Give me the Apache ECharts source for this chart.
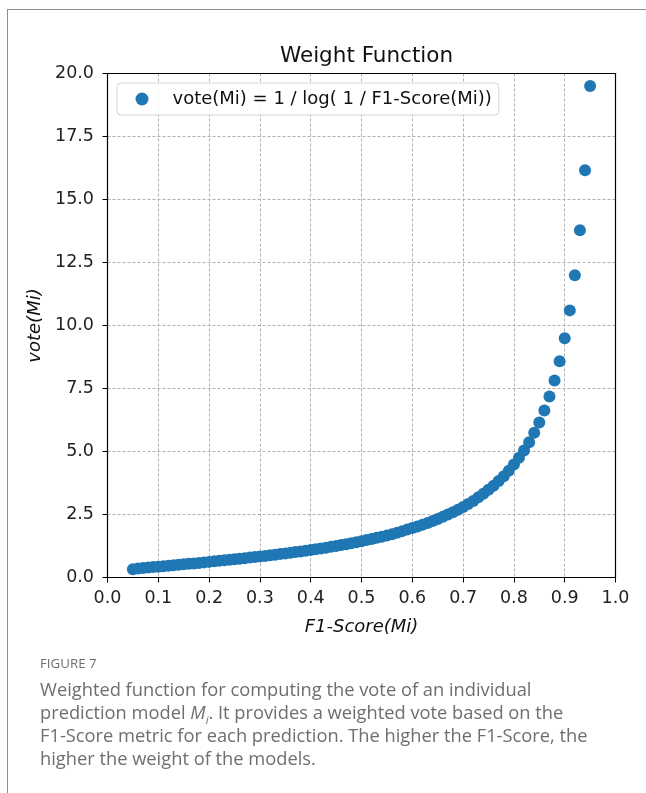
<!DOCTYPE html>
<html><head><meta charset="utf-8">
<script src="https://cdn.jsdelivr.net/npm/echarts@6/dist/echarts.min.js"></script>
<style>
html,body{margin:0;padding:0;background:#fff;}
#wrap{position:relative;width:646px;height:793px;overflow:hidden;}
#frame{position:absolute;left:7px;top:9px;width:700px;height:900px;border-left:1.5px solid #8c8c8c;border-top:1.5px solid #8c8c8c;}
#chart{position:absolute;left:0;top:0;width:646px;height:793px;}
#cap{position:absolute;left:40px;top:654px;width:600px;font-family:"Open Sans","Noto Sans",sans-serif;color:#6e6e6e;white-space:nowrap;}
#cap .fig{font-size:13.3px;line-height:18px;margin-bottom:5px;}
#cap .txt{font-size:18.3px;line-height:23px;}
</style></head>
<body><div id="wrap"><div id="frame"></div><div id="chart"></div>
<div id="cap"><div class="fig">FIGURE 7</div><div class="txt">Weighted function for computing the vote of an individual<br>prediction model <i>M<sub style="font-size:11px;line-height:0">i</sub></i>. It provides a weighted vote based on the<br>F1-Score metric for each prediction. The higher the F1-Score, the<br>higher the weight of the models.</div></div>
</div>
<script>
const f1Scores = [0.05,0.06,0.07,0.08,0.09,0.10,0.11,0.12,0.13,0.14,0.15,0.16,0.17,0.18,0.19,0.20,0.21,0.22,0.23,0.24,0.25,0.26,0.27,0.28,0.29,0.30,0.31,0.32,0.33,0.34,0.35,0.36,0.37,0.38,0.39,0.40,0.41,0.42,0.43,0.44,0.45,0.46,0.47,0.48,0.49,0.50,0.51,0.52,0.53,0.54,0.55,0.56,0.57,0.58,0.59,0.60,0.61,0.62,0.63,0.64,0.65,0.66,0.67,0.68,0.69,0.70,0.71,0.72,0.73,0.74,0.75,0.76,0.77,0.78,0.79,0.80,0.81,0.82,0.83,0.84,0.85,0.86,0.87,0.88,0.89,0.90,0.91,0.92,0.93,0.94,0.95];
const votes = [0.33,0.36,0.38,0.40,0.42,0.43,0.45,0.47,0.49,0.51,0.53,0.55,0.56,0.58,0.60,0.62,0.64,0.66,0.68,0.70,0.72,0.74,0.76,0.79,0.81,0.83,0.85,0.88,0.90,0.93,0.95,0.98,1.01,1.03,1.06,1.09,1.12,1.15,1.18,1.22,1.25,1.29,1.32,1.36,1.40,1.44,1.49,1.53,1.58,1.62,1.67,1.72,1.78,1.84,1.90,1.96,2.02,2.09,2.16,2.24,2.32,2.41,2.50,2.59,2.69,2.80,2.92,3.04,3.18,3.32,3.48,3.64,3.83,4.02,4.24,4.48,4.75,5.04,5.37,5.74,6.15,6.63,7.18,7.82,8.58,9.49,10.60,11.99,13.78,16.16,19.50];
const xTicks = [0.0,0.1,0.2,0.3,0.4,0.5,0.6,0.7,0.8,0.9,1.0];
const yTicks = [0.0,2.5,5.0,7.5,10.0,12.5,15.0,17.5,20.0];
const seriesName = 'vote(Mi) = 1 / log( 1 / F1-Score(Mi))';

const font = '"DejaVu Sans", sans-serif';
const chart = echarts.init(document.getElementById('chart'), null, {renderer:'canvas'});
const axisCommon = {
  axisLine:{show:true,lineStyle:{color:'#000',width:1.2}},
  axisTick:{show:true,inside:false,length:5,lineStyle:{color:'#000',width:1}},
  splitLine:{show:true,lineStyle:{color:'#b0b0b0',type:[3,2],width:1}},
  axisLabel:{color:'#222',fontFamily:font,fontSize:17.5}
};
const frameAxis = {
  axisLine:{show:true,onZero:false,lineStyle:{color:'#000',width:1.2}},
  axisTick:{show:false},axisLabel:{show:false},splitLine:{show:false}
};
chart.setOption({
  animation:false,
  backgroundColor:'transparent',
  title:{text:'Weight Function',left:361.5,textAlign:'center',top:40,textStyle:{fontFamily:font,fontSize:21.5,fontWeight:'normal',color:'#111'}},
  legend:{
    left:117,top:83,data:[seriesName],icon:'circle',itemWidth:13,itemHeight:13,itemGap:10,
    padding:[7,7,7,18.5],
    borderColor:'#d4d4d4',borderWidth:1,borderRadius:4,backgroundColor:'rgba(255,255,255,0.85)',
    textStyle:{fontFamily:font,fontSize:18,color:'#111',padding:[0,0,0,19]}
  },
  grid:{left:107.5,right:30.5,top:73.5,bottom:215.5,show:false},
  xAxis:[Object.assign({},axisCommon,{
    type:'value',min:xTicks[0],max:xTicks[xTicks.length-1],interval:0.1,
    name:'F1-Score(Mi)',nameLocation:'middle',nameGap:41,
    nameTextStyle:{fontFamily:font,fontSize:18,fontStyle:'italic',color:'#111'},
    axisLabel:Object.assign({},axisCommon.axisLabel,{margin:12,formatter:v=>v.toFixed(1)})
  }),Object.assign({},frameAxis,{type:'value',position:'top',min:xTicks[0],max:xTicks[xTicks.length-1]})],
  yAxis:[Object.assign({},axisCommon,{
    type:'value',min:yTicks[0],max:yTicks[yTicks.length-1],interval:2.5,
    name:'vote(Mi)',nameLocation:'middle',nameGap:62,nameRotate:90,
    nameTextStyle:{fontFamily:font,fontSize:18,fontStyle:'italic',color:'#111'},
    axisLabel:Object.assign({},axisCommon.axisLabel,{margin:13.5,formatter:v=>v.toFixed(1)})
  }),Object.assign({},frameAxis,{type:'value',position:'right',min:yTicks[0],max:yTicks[yTicks.length-1]})],
  series:[{
    name:seriesName,type:'scatter',symbol:'circle',symbolSize:12,xAxisIndex:0,yAxisIndex:0,
    itemStyle:{color:'#1f77b4',opacity:1},
    data:f1Scores.map((x,i)=>[x,votes[i]])
  }]
});
</script></body></html>
